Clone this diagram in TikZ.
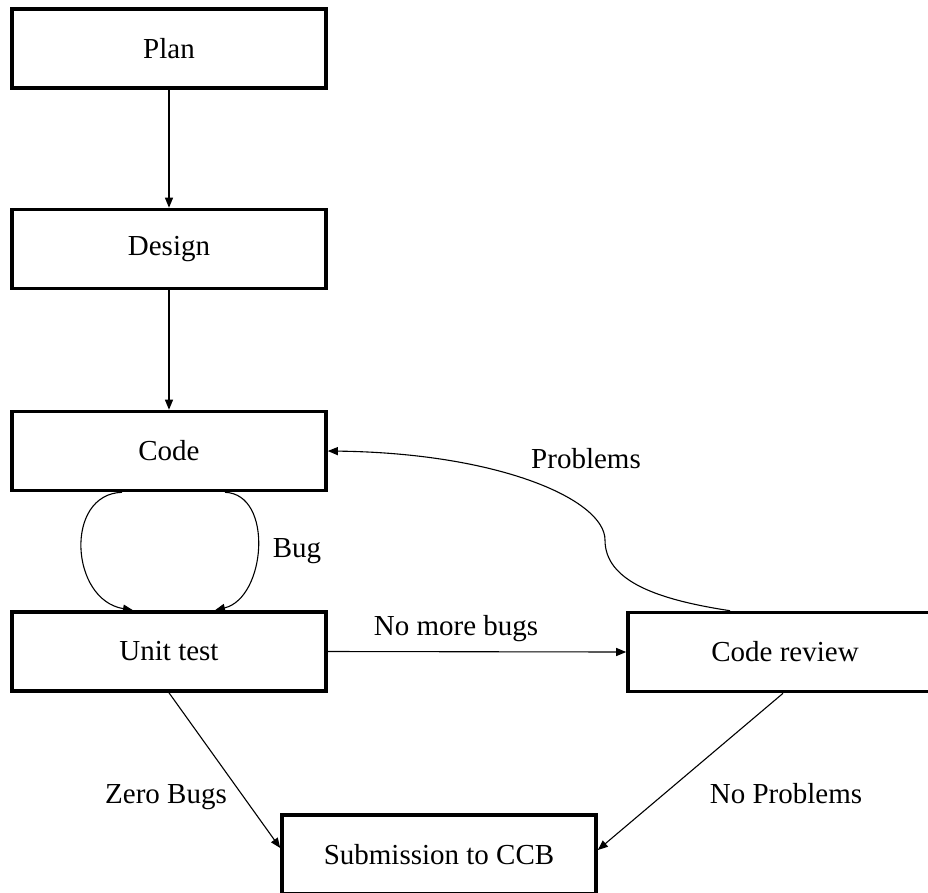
\documentclass[tikz,border=0pt]{standalone}
\usepackage{fontspec}
\setmainfont{Liberation Serif}
\usetikzlibrary{arrows.meta,calc}

\begin{document}
\begin{tikzpicture}[x=1pt,y=-1pt,
  font=\fontsize{29}{34}\selectfont,
  stagebox/.style={draw=black,line width=3.6pt,minimum width=314pt,minimum height=79pt,inner sep=0pt,fill=white},
  flow/.style={line width=1.1pt,-{Triangle[length=10pt,width=8pt]}},
  tag/.style={inner sep=0pt,anchor=base}]
  \useasboundingbox[fill=white] (0,0) rectangle (928,892);

  % process stages
  \node[stagebox] (plan)   at (169,48.5)  {Plan};
  \node[stagebox] (design) at (169,249)   {Design};
  \node[stagebox] (code)   at (169,451)   {Code};
  \node[stagebox] (unit)   at (169,651.5) {Unit test};
  \node[stagebox] (review) at (785,652)   {Code review};
  \node[stagebox] (ccb)    at (439,854.5) {Submission to CCB};

  % main line
  \draw[flow] (plan.south) -- (design.north);
  \draw[flow] (design.south) -- (code.north);

  % code / unit test loop
  \draw[flow] ([xshift=-47pt]code.south) .. controls (64,494) and (70,600) .. ([xshift=-36pt]unit.north);
  \draw[flow] ([xshift=56pt]code.south) .. controls (274,494) and (266,598) .. ([xshift=46pt]unit.north);
  \node[tag] (bug) at (297,557) {Bug};

  % unit test to review
  \draw[flow] (unit.east) -- (review.west);
  \node[tag] (nomore) at (456,635) {No more bugs};

  % review problems back to code
  \coordinate (bend) at (605,540);
  \draw[flow] ([xshift=-55pt]review.north) .. controls (660,600) and (605,582) .. (bend)
    .. controls (605,500) and (500,453) .. (code.east);
  \node[tag] (problems) at (586,468) {Problems};

  % exits to CCB
  \draw[flow] (unit.south) -- ([yshift=6.5pt]ccb.west);
  \node[tag,anchor=base east] (zero) at (227,803) {Zero Bugs};
  \draw[flow] ([xshift=-2pt]review.south) -- ([yshift=4.5pt]ccb.east);
  \node[tag] (noprob) at (786,803) {No Problems};
\end{tikzpicture}
\end{document}
